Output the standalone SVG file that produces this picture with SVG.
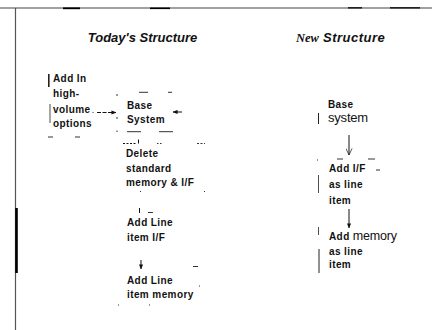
<svg xmlns="http://www.w3.org/2000/svg" width="432" height="330" viewBox="0 0 432 330">
<defs>
<style>
.t{font-family:"Liberation Sans",Arial,sans-serif;font-weight:bold;font-size:10px;letter-spacing:0.4px;fill:#111}
.r{font-family:"Liberation Sans",Arial,sans-serif;font-weight:normal;letter-spacing:-0.2px;fill:#111}
.h{font-family:"Liberation Sans",Arial,sans-serif;font-weight:bold;font-style:italic;font-size:13px;fill:#111}
.hs{font-family:"Liberation Serif","Times New Roman",serif;font-weight:bold;font-style:italic;font-size:12.5px;fill:#111}
.ln{stroke:#111;stroke-width:1;fill:none}
.mk{stroke:#333;stroke-width:1;fill:none}
.bar{stroke:#222;fill:none}
</style>
<marker id="ah" viewBox="0 0 6 6" refX="5.5" refY="3" markerWidth="5" markerHeight="5" orient="auto">
<path d="M0,0.5 L6,3 L0,5.5 Z" fill="#111"/>
</marker>
<marker id="av" viewBox="0 0 8 8" refX="7.5" refY="4" markerWidth="7" markerHeight="7" orient="auto">
<path d="M0,0.5 L7.5,4 L0,7.5" fill="none" stroke="#111" stroke-width="0.8"/>
</marker>
</defs>
<rect width="432" height="330" fill="#fff"/>

<g id="frame">
<line x1="0" y1="8" x2="432" y2="8" stroke="#444" stroke-width="1.2"/>
<line x1="63" y1="8.3" x2="80" y2="8.3" stroke="#000" stroke-width="1.8"/>
<line x1="150" y1="8.3" x2="170" y2="8.3" stroke="#000" stroke-width="1.6"/>
<line x1="348" y1="7.8" x2="362" y2="7.8" stroke="#222" stroke-width="1.6"/>
<line x1="390" y1="7.8" x2="420" y2="7.8" stroke="#222" stroke-width="1.6"/>
<line x1="15.5" y1="8" x2="15.5" y2="330" stroke="#555" stroke-width="1.2"/>
<line x1="16.5" y1="208" x2="16.5" y2="273" stroke="#000" stroke-width="2.6"/>
</g>

<g id="title-today">
<text class="h" x="142.5" y="42" text-anchor="middle">Today's Structure</text>
</g>
<g id="title-new">
<text x="296" y="42"><tspan class="hs">New</tspan><tspan class="h" x="323" font-size="14" letter-spacing="0.5">Structure</tspan></text>
</g>

<g id="node-add-in">
<line class="bar" x1="48.8" y1="74" x2="48.8" y2="87" stroke-width="1.6"/>
<line class="bar" x1="50" y1="104" x2="50" y2="123" stroke-width="0.8" stroke="#777"/>
<text class="t" x="53" y="82">Add In</text>
<text class="t" x="53" y="97">high-</text>
<text class="t" x="53" y="113">volume</text>
<text class="t" x="53" y="127">options</text>
</g>

<g id="node-base-system">
<text class="t" x="127" y="108.5">Base</text>
<text class="t" x="127" y="122.5">System</text>
</g>

<g id="node-delete">
<text class="t" x="126" y="157">Delete</text>
<text class="t" x="126" y="171.5">standard</text>
<text class="t" x="126" y="186">memory &amp; I/F</text>
</g>

<g id="node-add-line-if">
<text class="t" x="127" y="226">Add Line</text>
<text class="t" x="127" y="241">item I/F</text>
</g>

<g id="node-add-line-memory">
<text class="t" x="127" y="283.5">Add Line</text>
<text class="t" x="127" y="298">item memory</text>
</g>

<g id="node-new-base">
<line class="bar" x1="318.5" y1="113" x2="318.5" y2="124" stroke-width="1"/>
<text class="t" x="328" y="108">Base</text>
<text class="r" x="328" y="121.5" font-size="13">system</text>
</g>

<g id="node-new-if">
<line class="bar" x1="318.5" y1="175" x2="318.5" y2="193" stroke-width="0.8" stroke="#777"/>
<text class="t" x="329" y="172" letter-spacing="0.9">Add I/F</text>
<text class="t" x="329" y="188">as line</text>
<text class="t" x="329" y="204">item</text>
</g>

<g id="node-new-memory">
<line class="bar" x1="318.5" y1="227" x2="318.5" y2="235" stroke-width="0.8"/>
<line class="bar" x1="319" y1="249" x2="319" y2="273" stroke-width="1"/>
<text x="329" y="239.5"><tspan class="t">Add </tspan><tspan class="r" font-size="12.5">memory</tspan></text>
<text class="t" x="329" y="255">as line</text>
<text class="t" x="329" y="268">item</text>
</g>

<g id="connectors">
<line class="ln" x1="97" y1="112.5" x2="116" y2="112.5" stroke-dasharray="4 1.5" marker-end="url(#ah)"/>
<line class="ln" x1="182" y1="112" x2="173" y2="112" marker-end="url(#ah)"/>
<line class="ln" x1="123" y1="143.5" x2="137" y2="143.5" stroke-dasharray="2 1.5"/>
<line class="ln" x1="138.5" y1="143.5" x2="138.5" y2="139.5"/>
<line class="ln" x1="139.5" y1="208" x2="139.5" y2="213"/>
<line class="ln" x1="141" y1="260" x2="141" y2="269" marker-end="url(#ah)"/>
<line class="ln" x1="349" y1="135" x2="349" y2="155" stroke-width="0.8" marker-end="url(#av)"/>
<line class="ln" x1="349" y1="209" x2="349" y2="228" marker-end="url(#ah)"/>
</g>

<g id="marks">
<line class="mk" x1="48" y1="137" x2="53" y2="137"/>
<line class="mk" x1="75" y1="137" x2="80" y2="137"/>
<line class="mk" x1="92.5" y1="112.5" x2="93.5" y2="112.5"/>
<line class="mk" x1="117" y1="94" x2="117" y2="96"/>
<line class="mk" x1="117" y1="117" x2="117" y2="119"/>
<line class="mk" x1="117" y1="130.5" x2="117" y2="132"/>
<line class="mk" x1="139" y1="92.3" x2="148" y2="92.3"/>
<line class="mk" x1="168" y1="92.3" x2="172" y2="92.3"/>
<line class="mk" x1="127" y1="131.7" x2="141" y2="131.7" stroke-width="1.2"/>
<line class="mk" x1="159" y1="131.7" x2="173" y2="131.7" stroke-width="1.2"/>
<line class="mk" x1="157" y1="143.5" x2="163" y2="143.5" stroke-dasharray="1.5 1.5"/>
<line class="mk" x1="197" y1="143.5" x2="205" y2="143.5" stroke-dasharray="2 1.5"/>
<line class="mk" x1="140" y1="191.5" x2="141" y2="191.5"/>
<line class="mk" x1="204" y1="191.5" x2="205" y2="191.5"/>
<line class="mk" x1="148" y1="212.5" x2="153" y2="212.5" stroke-width="1.3"/>
<line class="mk" x1="193" y1="266.5" x2="198" y2="266.5" stroke-width="1.3"/>
<line class="mk" x1="199" y1="286" x2="200" y2="286"/>
<line class="mk" x1="118" y1="305" x2="119" y2="305"/>
<line class="mk" x1="149" y1="305" x2="150" y2="305"/>
<line class="mk" x1="337" y1="159" x2="343" y2="159"/>
<line class="mk" x1="368" y1="159" x2="375" y2="159"/>
<line class="mk" x1="317" y1="160" x2="318" y2="160"/>
<line class="mk" x1="376" y1="170" x2="380" y2="170" stroke-width="0.8"/>
</g>
</svg>
